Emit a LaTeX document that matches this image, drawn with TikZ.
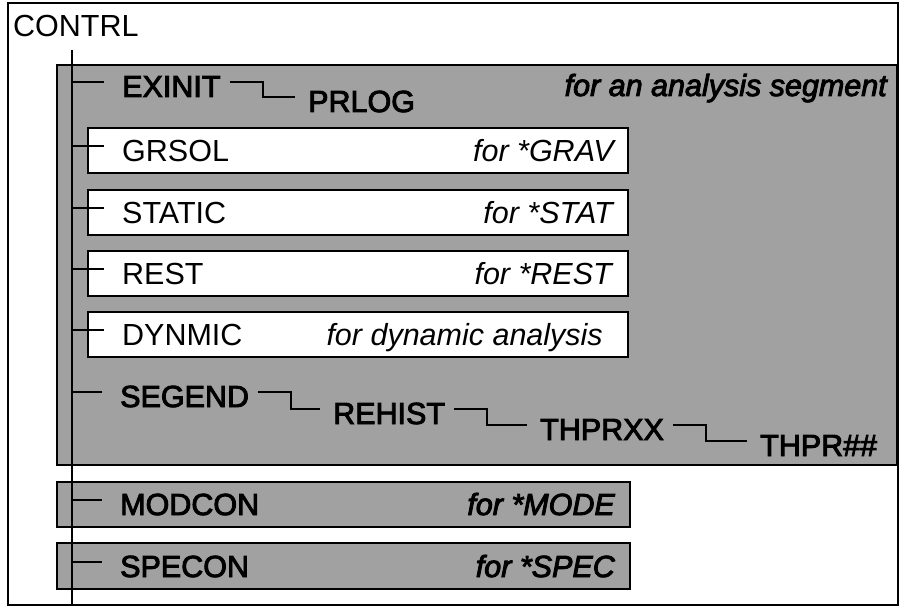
\documentclass[tikz,border=0pt]{standalone}
\usepackage{fontspec}
\setmainfont{Liberation Sans}
\newfontfamily\heavyfont{Liberation Sans}[FakeBold=3]
\usetikzlibrary{calc}
\definecolor{halftone}{gray}{0.63}
\newcommand{\labelsize}{\fontsize{30.5}{36}\selectfont}
\tikzset{
  wire/.style={line width=2pt},
  outerframe/.style={draw, line width=2pt, inner sep=0pt, outer sep=0pt, anchor=north west},
  panel/.style={draw, line width=2.8pt, fill=halftone, inner sep=0pt, outer sep=0pt, anchor=north west},
  subbox/.style={draw, line width=2.8pt, fill=white, inner sep=0pt, outer sep=0pt, anchor=north west,
    minimum width=540pt, minimum height=45pt},
  routine/.style={inner sep=0pt, anchor=base west, font=\labelsize},
  remark/.style={inner sep=0pt, anchor=base east, font=\labelsize\itshape},
  dimroutine/.style={routine, font=\labelsize\heavyfont},
  dimremark/.style={remark, font=\labelsize\heavyfont\itshape},
}
\begin{document}
\begin{tikzpicture}[x=1pt, y=-1pt]
\useasboundingbox (0,0) rectangle (900,607);

% outer frame of the control routine
\node[outerframe, minimum width=890pt, minimum height=602pt] (contrlframe) at (8,3) {};
\node[routine] (contrl) at (13,37) {CONTRL};

% analysis segment panel
\node[panel, minimum width=840pt, minimum height=400pt] (segment) at (57,65) {};
\node[panel, minimum width=573pt, minimum height=45pt] (modpanel) at (57,482) {};
\node[panel, minimum width=573pt, minimum height=46pt] (specpanel) at (57,543) {};

% white sub-boxes
\node[subbox] (grsolbox) at (88,128) {};
\node[subbox] (staticbox) at (88,190) {};
\node[subbox] (restbox) at (88,251) {};
\node[subbox] (dynmicbox) at (88,312) {};

% labels in the shaded panels
\node[dimroutine] (exinit) at (122,97) {EXINIT};
\node[dimroutine] (prlog) at (308,112) {PRLOG};
\node[dimremark] (segnote) at (887,96) {for an analysis segment};
\node[dimroutine] (segend) at (120,407) {SEGEND};
\node[dimroutine] (rehist) at (333,424) {REHIST};
\node[dimroutine] (thprxx) at (540,440) {THPRXX};
\node[dimroutine] (thprnn) at (760,456) {THPR\#\#};
\node[dimroutine] (modcon) at (120,515) {MODCON};
\node[dimremark] (modnote) at (615,515) {for *MODE};
\node[dimroutine] (specon) at (120,577) {SPECON};
\node[dimremark] (specnote) at (615,577) {for *SPEC};

% labels in the white boxes
\node[routine] (grsol) at (122,161) {GRSOL};
\node[remark] (grsolnote) at (614,161) {for *GRAV};
\node[routine] (static) at (122,223) {STATIC};
\node[remark] (staticnote) at (613,223) {for *STAT};
\node[routine] (rest) at (122,284) {REST};
\node[remark] (restnote) at (612,284) {for *REST};
\node[routine] (dynmic) at (122,345) {DYNMIC};
\node[remark] (dynmicnote) at (603,345) {for dynamic analysis};

% the calling spine
\coordinate (spinetop) at (72,50);
\coordinate (spinebot) at (72,606);
\draw[wire] (spinetop) -- (spinebot);

% branches from the spine to each called routine
\foreach \r in {exinit,grsol,static,rest,dynmic,segend,modcon,specon}{
  \coordinate (tip-\r) at ([xshift=-18pt,yshift=15pt]\r.base west);
  \draw[wire] (spinetop |- tip-\r) -- (tip-\r);
}

% chained calls drawn as steps
\foreach \a/\b in {exinit/prlog,segend/rehist,rehist/thprxx,thprxx/thprnn}{
  \draw[wire] ([xshift=9pt,yshift=15pt]\a.base east) -- ++(33pt,0)
    |- ([xshift=-13pt,yshift=15pt]\b.base west);
}
\end{tikzpicture}
\end{document}
